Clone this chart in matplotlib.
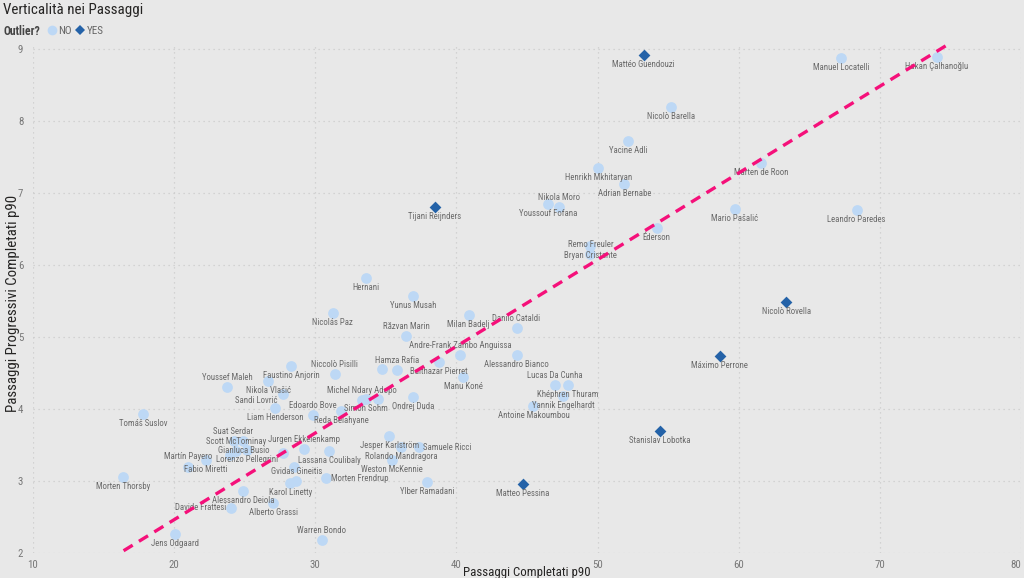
import matplotlib.pyplot as plt
from matplotlib import font_manager
from matplotlib.lines import Line2D

# the original uses a narrow DIN-like face; take a narrow one if installed
installed = {f.name for f in font_manager.fontManager.ttflist}
narrow = next((f for f in ['Liberation Sans Narrow', 'Roboto Condensed', 'DejaVu Sans Condensed']
               if f in installed), None)
if narrow:
    plt.rcParams['font.family'] = [narrow, 'DejaVu Sans']
    scale = 1.0
else:
    plt.rcParams['font.family'] = ['Roboto', 'DejaVu Sans']
    scale = 0.86

# values
players = [
    "Mattéo Guendouzi", "Manuel Locatelli", "Hakan Çalhanoğlu", "Nicolò Barella",
    "Yacine Adli", "Marten de Roon", "Henrikh Mkhitaryan", "Adrian Bernabe",
    "Nikola Moro", "Youssouf Fofana", "Mario Pašalić", "Leandro Paredes",
    "Éderson", "Tijani Reijnders", "Remo Freuler", "Bryan Cristante",
    "Hernani", "Yunus Musah", "Nicolás Paz", "Milan Badelj",
    "Danilo Cataldi", "Răzvan Marin", "Andre-Frank Zambo Anguissa", "Alessandro Bianco",
    "Balthazar Pierret", "Hamza Rafia", "", "Manu Koné",
    "Niccolò Pisilli", "Faustino Anjorin", "Youssef Maleh", "Nikola Vlašić",
    "Sandi Lovrić", "Liam Henderson", "Edoardo Bove", "Reda Belahyane",
    "Michel Ndary Adopo", "Simon Sohm", "", "Ondrej Duda",
    "Lucas Da Cunha", "Khéphren Thuram", "Yannik Engelhardt", "Antoine Makoumbou",
    "Tomáš Suslov", "Suat Serdar", "Scott McTominay", "Gianluca Busio",
    "Lorenzo Pellegrini", "", "Martín Payero", "Fabio Miretti",
    "Jurgen Ekkelenkamp", "", "Lassana Coulibaly", "Gvidas Gineitis",
    "", "Karol Linetty", "Morten Frendrup", "Jesper Karlström",
    "Samuele Ricci", "Rolando Mandragora", "Weston McKennie", "Ylber Ramadani",
    "Morten Thorsby", "Alessandro Deiola", "Alberto Grassi", "Davide Frattesi",
    "Jens Odgaard", "Warren Bondo", "Nicolò Rovella", "Máximo Perrone",
    "Stanislav Lobotka", "Matteo Pessina",
]
completed_p90 = [
    53.26, 67.28, 74.04, 55.18,
    52.18, 61.58, 50.05, 51.89,
    47.28, 46.48, 59.74, 68.35,
    54.18, 38.46, 49.50, 49.50,
    33.57, 36.93, 31.23, 40.87,
    44.26, 36.45, 40.28, 44.26,
    38.74, 35.82, 34.73, 40.50,
    31.37, 28.30, 23.74, 26.67,
    27.68, 27.16, 29.84, 31.84,
    33.28, 33.62, 34.43, 36.93,
    46.97, 47.92, 47.57, 45.46,
    17.80, 24.21, 24.38, 24.91,
    25.16, 23.97, 21.01, 22.25,
    29.17, 27.75, 31.00, 28.65,
    28.46, 28.23, 30.76, 35.25,
    37.33, 36.08, 35.44, 37.94,
    16.38, 24.91, 27.04, 24.02,
    20.07, 30.45, 63.38, 58.67,
    54.42, 44.70,
]
progressive_p90 = [
    8.92, 8.88, 8.89, 8.20,
    7.72, 7.42, 7.35, 7.13,
    6.81, 6.85, 6.78, 6.76,
    6.52, 6.80, 6.15, 6.27,
    5.82, 5.57, 5.33, 5.30,
    5.13, 5.01, 4.75, 4.75,
    4.65, 4.54, 4.56, 4.45,
    4.49, 4.60, 4.31, 4.39,
    4.21, 4.01, 3.92, 3.97,
    4.12, 4.14, 4.14, 4.17,
    4.33, 4.34, 4.18, 4.04,
    3.93, 3.56, 3.41, 3.55,
    3.43, 3.36, 3.20, 3.29,
    3.45, 3.39, 3.42, 3.00,
    3.20, 2.97, 3.04, 3.63,
    3.47, 3.47, 3.29, 2.99,
    3.05, 2.86, 2.69, 2.63,
    2.26, 2.18, 5.49, 4.74,
    3.69, 2.96,
]
outlier = ["YES" if p in ("Mattéo Guendouzi", "Tijani Reijnders", "Nicolò Rovella",
                          "Máximo Perrone", "Stanislav Lobotka", "Matteo Pessina")
           else "NO" for p in players]
trend_slope = 0.1204
trend_intercept = 0.054

# where each data label sits relative to its point (default: below)
labels_above = {
    "Nikola Moro", "Remo Freuler", "Danilo Cataldi", "Răzvan Marin",
    "Andre-Frank Zambo Anguissa", "Hamza Rafia", "Niccolò Pisilli", "Youssef Maleh",
    "Edoardo Bove", "Michel Ndary Adopo", "Lucas Da Cunha", "Suat Serdar",
    "Scott McTominay", "Martín Payero", "Jurgen Ekkelenkamp", "Gvidas Gineitis",
    "Warren Bondo",
}
labels_right = {"Morten Frendrup", "Samuele Ricci"}
labels_left = {"Davide Frattesi", "Sandi Lovrić"}

bg = '#E8E8E8'
no_color = '#BDD8F5'
yes_color = '#2462A8'

fig = plt.figure(figsize=(10.24, 5.78), dpi=100, facecolor=bg)
ax = fig.add_axes([0.0322, 0.0433, 0.9648, 0.8806], facecolor=bg)

no_x = [x for x, o in zip(completed_p90, outlier) if o == "NO"]
no_y = [y for y, o in zip(progressive_p90, outlier) if o == "NO"]
yes_x = [x for x, o in zip(completed_p90, outlier) if o == "YES"]
yes_y = [y for y, o in zip(progressive_p90, outlier) if o == "YES"]

ax.scatter(no_x, no_y, s=60, color=no_color, marker='o', linewidths=0, zorder=2)
ax.scatter(yes_x, yes_y, s=36, color=yes_color, marker='D', linewidths=0, zorder=2)

for name, x, y in zip(players, completed_p90, progressive_p90):
    if not name:
        continue
    if name in labels_above:
        off, ha = (0, 6.9), 'center'
    elif name in labels_right:
        off, ha = (3.4, 0), 'left'
    elif name in labels_left:
        off, ha = (-3.4, 0), 'right'
    else:
        off, ha = (0, -6.9), 'center'
    if name == "Sandi Lovrić":
        off = (-3.4, -5.0)
    ax.annotate(name, (x, y), xytext=off, textcoords='offset points',
                ha=ha, va='center', fontsize=6.3 * scale, color='#6A6A6A', zorder=3)

tx = [10, 80]
ty = [trend_intercept + trend_slope * v for v in tx]
ax.plot(tx, ty, color='#F5107A', lw=2.4, ls=(0, (3.2, 2.2)), zorder=4,
        dash_capstyle='butt')

ax.set_xlim(10, 80)
ax.set_ylim(2, 9.07)
ax.set_xticks(range(10, 81, 10))
ax.set_yticks(range(2, 10))
ax.grid(True, color='#CBCBCB', linestyle=(0, (1, 3)), linewidth=0.9)
ax.set_axisbelow(True)
for s in ax.spines.values():
    s.set_visible(False)
ax.tick_params(length=0, labelsize=7.8 * scale, labelcolor='#777777')
ax.tick_params(axis='x', pad=5)
ax.tick_params(axis='y', pad=7)
# keep the last x tick label inside the figure, as the original does
ax.get_xticklabels()[-1].set_horizontalalignment('right')

ax.set_xlabel("Passaggi Completati p90", fontsize=9.3 * scale, color='#252423')
ax.xaxis.set_label_coords(0.5, -0.026)
ax.set_ylabel("Passaggi Progressivi Completati p90", fontsize=10.7 * scale, color='#252423')
ax.yaxis.set_label_coords(-0.0135, 0.49)

fig.text(0.003, 0.995, "Verticalità nei Passaggi", fontsize=10.8 * scale, color='#252423',
         va='top', ha='left')
fig.text(0.003, 0.946, "Outlier?", fontsize=8.4 * scale, fontweight='bold', color='#444444',
         va='center', ha='left')
handles = [
    Line2D([], [], marker='o', ls='', color=no_color, markersize=7, markeredgewidth=0),
    Line2D([], [], marker='D', ls='', color=yes_color, markersize=5, markeredgewidth=0),
]
fig.legend(handles, ["NO", "YES"], loc='center left', bbox_to_anchor=(0.041, 0.946),
           ncol=2, frameon=False, fontsize=8.0 * scale, labelcolor='#666666',
           handlelength=0.8, handletextpad=0.15, columnspacing=0.4, borderpad=0)

fig.savefig("out.png", dpi=100, facecolor=bg)
